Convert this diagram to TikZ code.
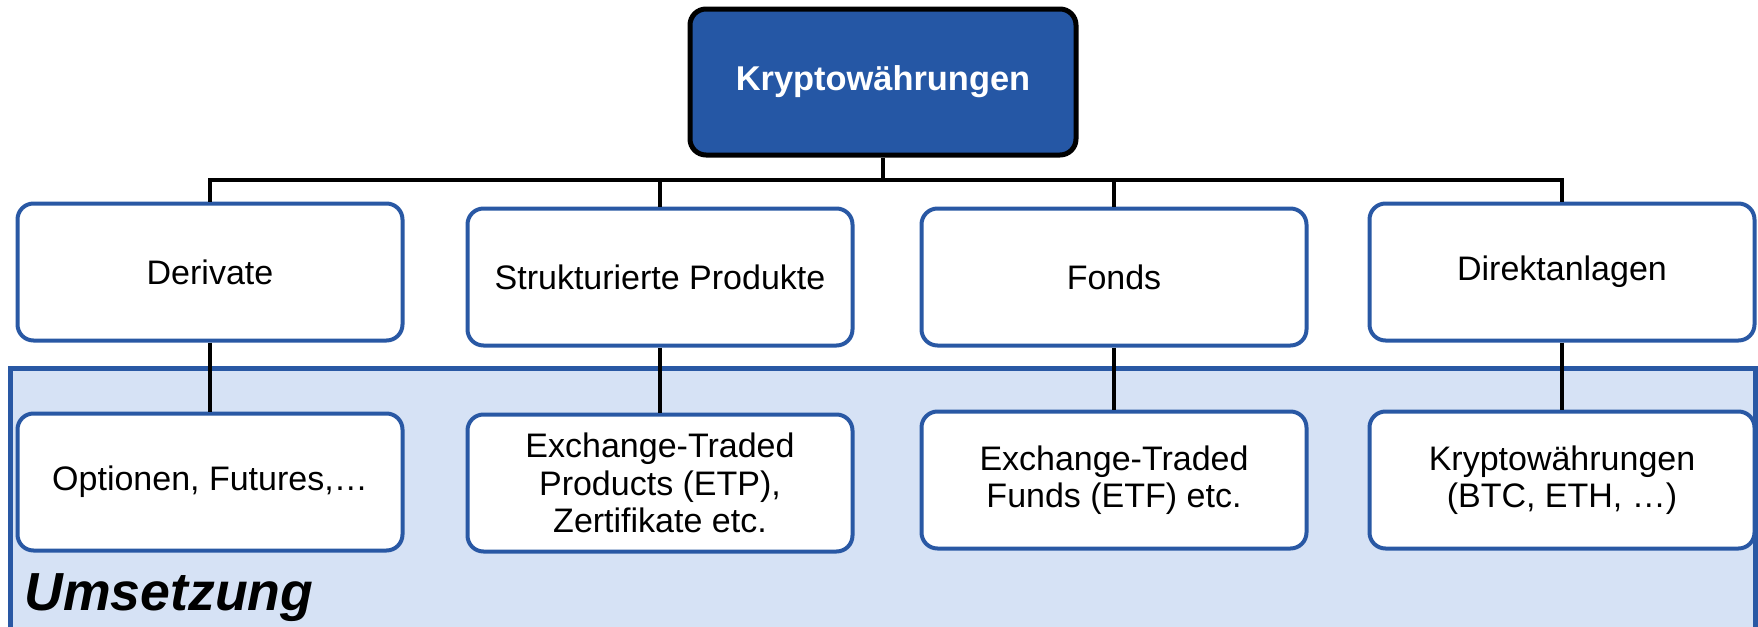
\documentclass[tikz,border=0pt]{standalone}
\usepackage{fontspec}
\setmainfont{Liberation Sans}
\definecolor{topfill}{RGB}{37,87,165}
\definecolor{boxblue}{RGB}{41,88,164}
\definecolor{lightbg}{RGB}{214,226,245}
\begin{document}
\begin{tikzpicture}[x=0.5pt,y=-0.5pt,
  topbox/.style={draw=black, line width=2.5pt, fill=topfill, rounded corners=8pt,
    minimum width=193pt, minimum height=73pt, text=white, font=\fontsize{17.2}{20}\selectfont\bfseries},
  catbox/.style={draw=boxblue, line width=2pt, fill=white, rounded corners=8pt,
    minimum width=192.5pt, minimum height=68.5pt, align=center, inner sep=2pt,
    font=\fontsize{17}{18.8}\selectfont},
  conn/.style={draw=black, line width=2pt}]
\useasboundingbox (0,0) rectangle (1758,627);
\begin{scope}
\clip (0,0) rectangle (1758,627);
\draw[draw=boxblue, line width=2.5pt, fill=lightbg] (10,700) -- (10,368) -- (1755,368) -- (1755,700) -- cycle;
\end{scope}
\node[font=\fontsize{26.8}{30}\selectfont\bfseries\itshape, anchor=base west, inner sep=0pt] (ums) at (24,610) {Umsetzung};
\node[topbox] (top) at (883,82) {Kryptowährungen};
\coordinate (bar) at (883,180);
\node[catbox] (d) at (210,272) {Derivate};
\node[catbox] (s) at (660,277) {Strukturierte Produkte};
\node[catbox] (f) at (1114,277) {Fonds};
\node[catbox] (di) at (1562,272) {Direktanlagen};
\node[catbox] (o) at (210,482) {Optionen, Futures,…};
\node[catbox] (e) at (660,483) {Exchange-Traded\\Products (ETP),\\Zertifikate etc.};
\node[catbox] (etf) at (1114,480) {Exchange-Traded\\Funds (ETF) etc.};
\node[catbox] (k) at (1562,480) {Kryptowährungen\\(BTC, ETH, …)};
\draw[conn] (top.south) -- (top.south |- bar);
\draw[conn] (d.north) -- (d.north |- bar) -- (di.north |- bar) -- (di.north);
\draw[conn] (s.north) -- (s.north |- bar);
\draw[conn] (f.north) -- (f.north |- bar);
\draw[conn] (d.south) -- (o.north);
\draw[conn] (s.south) -- (e.north);
\draw[conn] (f.south) -- (etf.north);
\draw[conn] (di.south) -- (k.north);
\end{tikzpicture}
\end{document}
